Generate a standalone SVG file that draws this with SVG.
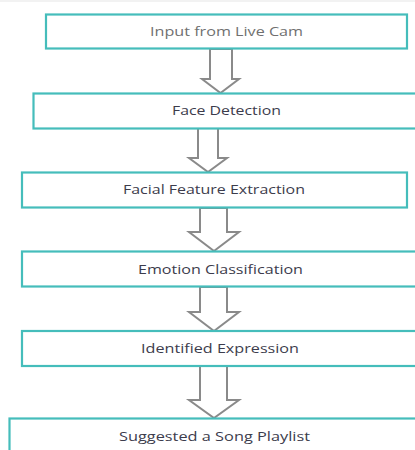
<svg xmlns="http://www.w3.org/2000/svg" width="415" height="450" viewBox="0 0 415 450">
<style>
.box{fill:#ffffff;stroke:#45bdbb;stroke-width:2.2}
.lbl{font-family:"Open Sans","Noto Sans",sans-serif;font-size:13.5px;fill:#3c3c4c;text-anchor:middle}
.arr{fill:#ffffff;stroke:#8a8a8a;stroke-width:2;stroke-linejoin:miter}
</style>
<rect x="0" y="0" width="415" height="450" fill="#ffffff"/>
<line x1="0" y1="1" x2="415" y2="1" stroke="#f2f2f2" stroke-width="2"/>
<g id="connectors">
<polygon class="arr" points="210,49 232,49 232,79 239,79 220.5,93 202,79 210,79"/>
<polygon class="arr" points="198,128 218,128 218,158 227,158 208,172 189,158 198,158"/>
<polygon class="arr" points="200,208 227,208 227,232 239,232 214,251 189,232 200,232"/>
<polygon class="arr" points="200,287 227,287 227,312 239,312 214,331 189,312 200,312"/>
<polygon class="arr" points="200,366 227,366 227,400 239,400 214,418 189,400 200,400"/>
</g>
<g id="n1"><rect class="box" x="46" y="14.5" width="361" height="34"/><text class="lbl" x="226.5" y="36" style="fill:#707070" textLength="153" lengthAdjust="spacingAndGlyphs">Input from Live Cam</text></g>
<g id="n2"><rect class="box" x="33.5" y="93.5" width="390" height="35"/><text class="lbl" x="226.5" y="115" textLength="109" lengthAdjust="spacingAndGlyphs">Face Detection</text></g>
<g id="n3"><rect class="box" x="22" y="172.5" width="385" height="35"/><text class="lbl" x="214" y="194" textLength="182" lengthAdjust="spacingAndGlyphs">Facial Feature Extraction</text></g>
<g id="n4"><rect class="box" x="22" y="251.5" width="400" height="35"/><text class="lbl" x="220.5" y="274" textLength="165" lengthAdjust="spacingAndGlyphs">Emotion Classification</text></g>
<g id="n5"><rect class="box" x="22" y="331" width="400" height="35"/><text class="lbl" x="220" y="353" textLength="158" lengthAdjust="spacingAndGlyphs">Identified Expression</text></g>
<g id="n6"><rect class="box" x="9.5" y="418.5" width="410" height="40"/><text class="lbl" x="214.5" y="441" textLength="191" lengthAdjust="spacingAndGlyphs">Suggested a Song Playlist</text></g>
</svg>
